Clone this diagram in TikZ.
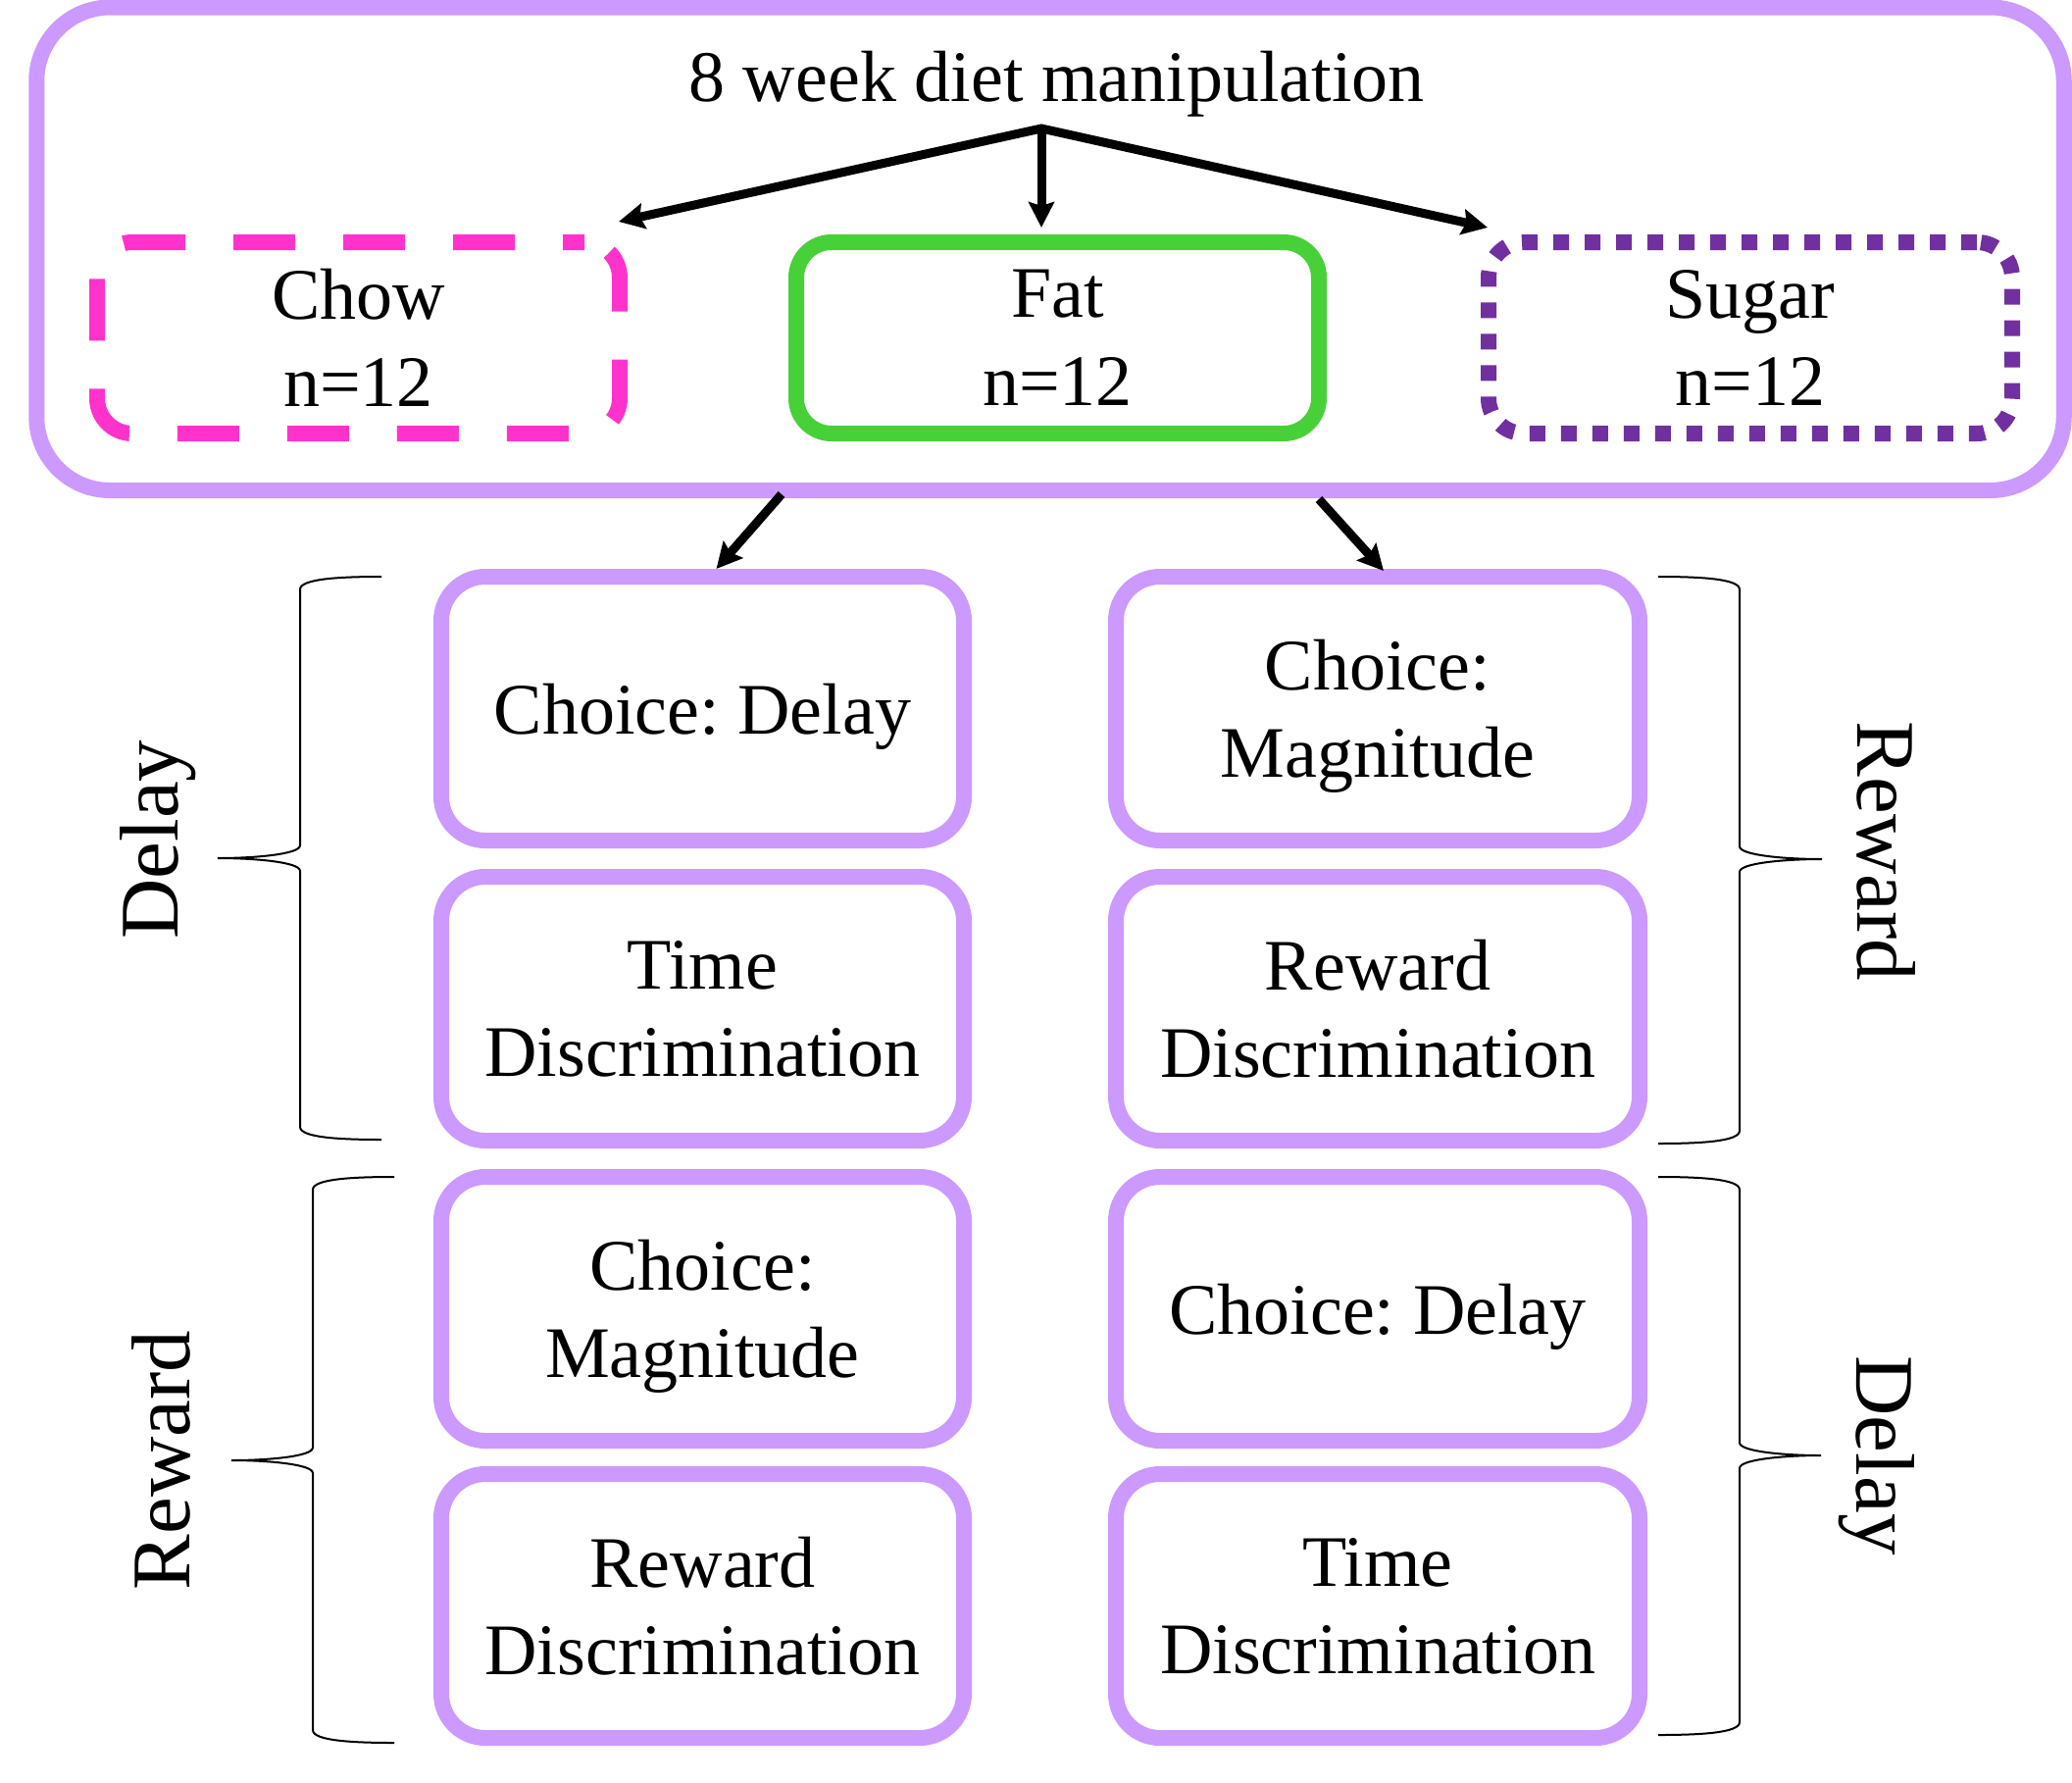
\documentclass[tikz,border=0pt]{standalone}
\usepackage{fontspec}
\setmainfont{Liberation Serif}
\usetikzlibrary{arrows.meta,calc}
\definecolor{lpurple}{RGB}{204,153,255}
\definecolor{pinkc}{RGB}{255,51,204}
\definecolor{greenc}{RGB}{72,208,56}
\definecolor{dpurple}{RGB}{112,48,160}
\newcommand{\bxfont}{\fontsize{74}{89.5}\selectfont}
\newcommand{\lblfont}{\fontsize{85}{100}\selectfont}
\frenchspacing
% #1 tip x, #2 line x, #3 point x, #4 top y, #5 bottom y, #6 middle y
\newcommand{\DrawBrace}[6]{%
  \draw[bracestyle] (#1,#4) .. controls ({#2+0.5*(#1-#2)},#4) and (#2,{#4+2}) .. (#2,{#4+13})
    -- (#2,{#6-13}) .. controls (#2,{#6-4}) and ({#3+0.45*(#2-#3)},#6) .. (#3,#6)
    .. controls ({#3+0.45*(#2-#3)},#6) and (#2,{#6+4}) .. (#2,{#6+13})
    -- (#2,{#5-13}) .. controls (#2,{#5-2}) and ({#2+0.5*(#1-#2)},#5) .. (#1,#5);}
\begin{document}
\begin{tikzpicture}[x=1pt,y=-1pt,
  box/.style={draw=lpurple,line width=16pt,rounded corners=45pt,minimum width=533pt,
    minimum height=269pt,inner sep=0pt,outer sep=0pt,align=center,font=\bxfont,text depth=0pt},
  diet/.style={line width=16pt,rounded corners=36pt,minimum width=533pt,
    minimum height=195pt,inner sep=0pt,outer sep=0pt,align=center,font=\bxfont,text depth=-8pt},
  tip/.tip={Stealth[length=26pt,width=26pt,inset=4pt]},
  arr/.style={line width=9pt,-tip},
  bracestyle/.style={line width=2pt,black},
  lbl/.style={font=\lblfont,anchor=base,inner sep=0pt}]
\useasboundingbox (0,0) rectangle (2113,1818);
% outer frame
\node[draw=lpurple,line width=16pt,rounded corners=75pt,minimum width=2067.5pt,
  minimum height=492.5pt,inner sep=0pt,outer sep=0pt] (outer) at (1071,253.75) {};
\node[anchor=base,font=\bxfont,inner sep=0pt] (title) at (1077.5,103) {8 week diet manipulation};
\coordinate (apex) at (1062,131);
% diet boxes
\node[diet,draw=pinkc,dash pattern=on 63pt off 49pt,dash phase=41pt] (chow) at (365.5,344.5) {Chow\\n=12};
\node[diet,draw=greenc] (fat) at (1078.5,344.5) {Fat\\n=12};
\node[diet,draw=dpurple,minimum width=534pt,dash pattern=on 16pt off 16pt] (sugar) at (1785,344.5) {Sugar\\n=12};
% arrows from title
\draw[line width=9pt,tip-tip,line join=miter]
  ($(chow.north east)+(-1,-21)$) -- (apex) -- ($(sugar.north west)+(-1,-15)$);
\draw[arr] (apex) -- ($(apex |- fat.north)+(0,-15)$);
% task boxes
\node[box] (L1) at (716.5,722.5) {Choice: Delay};
\node[box] (L2) at (716.5,1028.5) {Time\\Discrimination};
\node[box] (L3) at (716.5,1334.5) {Choice:\\Magnitude};
\node[box] (L4) at (716.5,1637.5) {Reward\\Discrimination};
\node[box,minimum width=534pt] (R1) at (1405,722.5) {Choice:\\Magnitude};
\node[box,minimum width=534pt] (R2) at (1405,1028.5) {Reward\\Discrimination};
\node[box,minimum width=534pt] (R3) at (1405,1334.5) {Choice: Delay};
\node[box,minimum width=534pt] (R4) at (1405,1637.5) {Time\\Discrimination};
% arrows from frame
\draw[arr] ($(outer.south)+(-274,4)$) -- ($(L1.north)+(14,-8)$);
\draw[arr] ($(outer.south)+(274,9)$) -- ($(R1.north)+(6,-6)$);
% braces
\DrawBrace{389}{306}{222}{588}{1162}{875}
\DrawBrace{402}{319}{236}{1200}{1777}{1489}
\DrawBrace{1691}{1774}{1858}{588}{1166}{876}
\DrawBrace{1691}{1774}{1857}{1200}{1769}{1484}
% brace labels
\node[lbl,rotate=90] (lDelay) at (181,856) {Delay};
\node[lbl,rotate=90] (lReward) at (193,1489) {Reward};
\node[lbl,rotate=-90] (rReward) at (1894,868) {Reward};
\node[lbl,rotate=-90] (rDelay) at (1893,1484) {Delay};
\end{tikzpicture}
\end{document}
